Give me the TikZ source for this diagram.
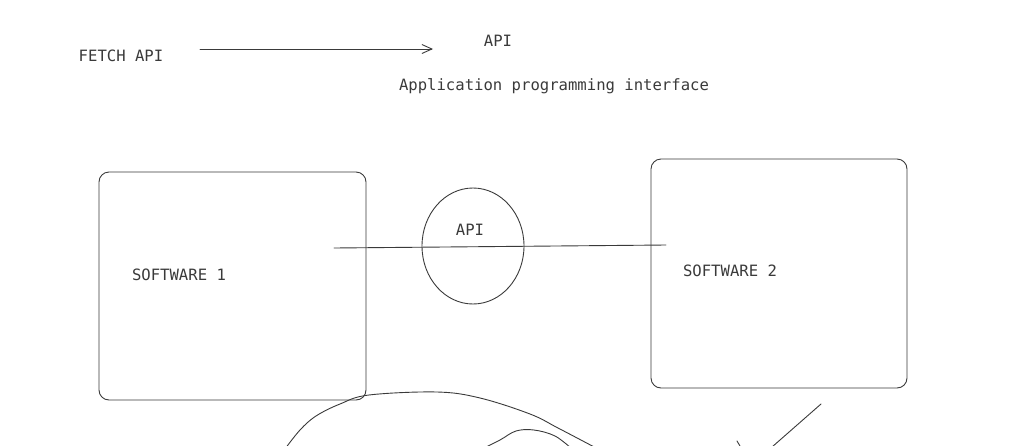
\documentclass[tikz,border=0pt]{standalone}
\usepackage{fontspec}
\setmonofont{DejaVu Sans Mono}
\usetikzlibrary{arrows.meta}
\definecolor{ink}{HTML}{3A3A3A}
\tikzset{
  lbl/.style={font=\ttfamily\fontsize{15.6}{18}\selectfont, text=ink, inner sep=0pt},
  pen/.style={draw=ink, line width=0.9pt, line cap=round, line join=round},
  swbox/.style={pen, rounded corners=10pt},
}
\begin{document}
\begin{tikzpicture}[x=1pt,y=-1pt]
\useasboundingbox (0,0) rectangle (1034,445);
% top
\node[lbl] (fetch) at (121,56) {FETCH API};
\node[lbl] (api) at (498,41) {API};
\node[lbl] (apidef) at (554,86) {Application programming interface};
\coordinate (a1) at (200,49);
\coordinate (a2) at (433,49);
\draw[pen, -{Straight Barb[length=10pt,width=9pt]}] (a1) -- (a2);
% boxes
\draw[swbox] (99,172) rectangle (366,400);
\draw[swbox] (651,159) rectangle (907,388);
\node[lbl] (sw1) at (179,275) {SOFTWARE 1};
\node[lbl] (sw2) at (730,271) {SOFTWARE 2};
% api circle
\draw[pen] (473,246) ellipse [x radius=51, y radius=58];
\node[lbl] (apic) at (470,230) {API};
\coordinate (l1) at (334,248);
\coordinate (l2) at (666,245);
\draw[pen] (l1) -- (l2);
% bottom scribbles
\draw[pen] plot[smooth, tension=0.6] coordinates {(285,449) (300,430) (316,416) (340,404) (369,395) (437,392) (480,398) (530,414) (558,428) (598,449)};
\draw[pen] plot[smooth, tension=0.6] coordinates {(482,449) (500,440) (516,431) (534,430) (555,436) (572,449)};
\draw[pen] (821,404) -- (772,447);
\draw[pen] (737,441) -- (740,446);
\end{tikzpicture}
\end{document}
